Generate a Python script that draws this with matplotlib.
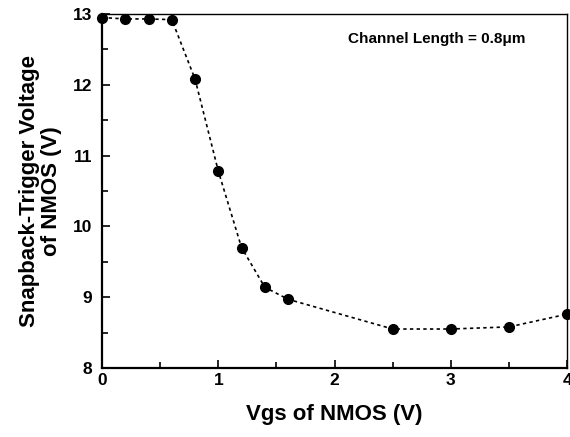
import matplotlib.pyplot as plt
from matplotlib.ticker import MultipleLocator

plt.rcParams['font.family'] = ['Liberation Sans', 'DejaVu Sans']

# gate bias sweep and measured trigger voltage
vgs = [0.0, 0.2, 0.4, 0.6, 0.8, 1.0, 1.2, 1.4, 1.6, 2.5, 3.0, 3.5, 4.0]
vt1 = [12.95, 12.93, 12.93, 12.92, 12.08, 10.78, 9.70, 9.14, 8.97, 8.55, 8.55, 8.58, 8.76]

fig = plt.figure(figsize=(5.7, 4.37), dpi=100)
ax = fig.add_axes([0.179, 0.158, 0.816, 0.81])

ax.plot(vgs, vt1, linestyle=(0, (2, 2)), color='black', linewidth=1.2,
        marker='o', markersize=7, clip_on=False, zorder=3)

ax.set_xlim(0, 4)
ax.set_ylim(8, 13)
ax.xaxis.set_major_locator(MultipleLocator(1))
ax.xaxis.set_minor_locator(MultipleLocator(0.5))
ax.yaxis.set_major_locator(MultipleLocator(1))
ax.yaxis.set_minor_locator(MultipleLocator(0.5))
ax.tick_params(which='both', direction='in', top=False, right=False,
               width=1.2, labelsize=12.5)
ax.tick_params(which='major', length=6)
ax.tick_params(which='minor', length=4)
ax.tick_params(axis='y', pad=7)
for lbl in ax.get_xticklabels() + ax.get_yticklabels():
    lbl.set_fontweight('bold')
for side in ['left', 'bottom']:
    ax.spines[side].set_linewidth(1.6)
for side in ['top', 'right']:
    ax.spines[side].set_linewidth(1.0)

ax.set_xlabel('Vgs of NMOS (V)', fontsize=16, fontweight='bold', labelpad=12)
ax.set_ylabel('Snapback-Trigger Voltage\nof NMOS (V)', fontsize=16,
              fontweight='bold', labelpad=8, linespacing=1.05)

ax.text(0.91, 0.93, 'Channel Length = 0.8\u03bcm', transform=ax.transAxes,
        ha='right', va='center', fontsize=11, fontweight='bold')

fig.savefig('out.png', dpi=100)
